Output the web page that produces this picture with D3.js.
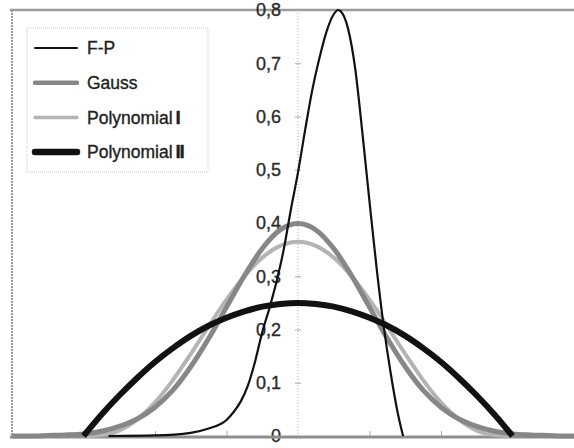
<!DOCTYPE html>
<html>
<head>
<meta charset="utf-8">
<script src="https://cdn.jsdelivr.net/npm/d3@7"></script>
<style>
  body { margin: 0; background: #fff; }
  svg { display: block; font-family: "Liberation Sans", Arial, sans-serif; }
</style>
</head>
<body>
<div id="chart"></div>
<script>
'use strict';

// kernel curves
var kernelX = [-3, -2.75, -2.5, -2.25, -2, -1.75, -1.5, -1.25, -1, -0.75, -0.5, -0.25, 0,
  0.25, 0.5, 0.75, 1, 1.25, 1.5, 1.75, 2, 2.25, 2.5, 2.75, 3];

var gaussX = [-4, -3.75, -3.5, -3.25, -3, -2.75, -2.5, -2.25, -2, -1.75, -1.5, -1.25, -1, -0.75, -0.5, -0.25, 0,
  0.25, 0.5, 0.75, 1, 1.25, 1.5, 1.75, 2, 2.25, 2.5, 2.75, 3, 3.25, 3.5, 3.75, 4];
var gaussY = [0, 0, 0.001, 0.002, 0.004, 0.009, 0.018, 0.032, 0.054, 0.086, 0.130, 0.183, 0.242, 0.301, 0.352, 0.387, 0.399,
  0.387, 0.352, 0.301, 0.242, 0.183, 0.130, 0.086, 0.054, 0.032, 0.018, 0.009, 0.004, 0.002, 0.001, 0, 0];

var poly1Y = [0, 0.002, 0.010, 0.031, 0.063, 0.105, 0.154, 0.206, 0.256, 0.300, 0.335, 0.357, 0.365,
  0.357, 0.335, 0.300, 0.256, 0.206, 0.154, 0.105, 0.063, 0.031, 0.010, 0.002, 0];

var poly2Y = [0, 0.040, 0.076, 0.109, 0.139, 0.165, 0.188, 0.207, 0.222, 0.234, 0.243, 0.248, 0.250,
  0.248, 0.243, 0.234, 0.222, 0.207, 0.188, 0.165, 0.139, 0.109, 0.076, 0.040, 0];

var fpX = [-2.65, -2.0, -1.5, -1.25, -1.0, -0.9, -0.8, -0.7, -0.6, -0.5, -0.4, -0.3, -0.2, -0.1, 0,
  0.1, 0.2, 0.3, 0.4, 0.5, 0.56, 0.6, 0.7, 0.8, 0.9, 1.0, 1.1, 1.2, 1.3, 1.4, 1.47];
var fpY = [0, 0.001, 0.006, 0.014, 0.03, 0.045, 0.065, 0.095, 0.14, 0.195, 0.24, 0.29, 0.35, 0.425, 0.495,
  0.575, 0.65, 0.71, 0.76, 0.792, 0.8, 0.797, 0.765, 0.69, 0.57, 0.44, 0.315, 0.205, 0.115, 0.04, 0];

var yTicks = [0, 0.1, 0.2, 0.3, 0.4, 0.5, 0.6, 0.7, 0.8];
var xTicks = [-3, -2, -1, 1, 2, 3];

var legendNames = ['F-P', 'Gauss', 'Polynomial', 'Polynomial'];
var legendNumerals = ['', '', 'I', 'II'];

var width = 574, height = 448;

var svg = d3.select('#chart').append('svg')
  .attr('width', width)
  .attr('height', height);

var x = d3.scaleLinear().domain([-4, 4]).range([12, 584]);
var y = d3.scaleLinear().domain([0, 0.8]).range([436, 10]);

var series = [
  { name: 'Polynomial I', xs: kernelX, ys: poly1Y, color: '#b4b4b4', w: 4 },
  { name: 'Gauss', xs: gaussX, ys: gaussY, color: '#878787', w: 5 },
  { name: 'Polynomial II', xs: kernelX, ys: poly2Y, color: '#111', w: 6 },
  { name: 'F-P', xs: fpX, ys: fpY, color: '#111', w: 2.2 }
];

// frame: top rule and dotted left edge
svg.append('line')
  .attr('x1', 10).attr('x2', width).attr('y1', 10).attr('y2', 10)
  .attr('stroke', '#9c9c9c').attr('stroke-width', 2.5);
svg.append('line')
  .attr('x1', 12).attr('x2', 12).attr('y1', 10).attr('y2', 437)
  .attr('stroke', '#999').attr('stroke-width', 2).attr('stroke-dasharray', '2,1');

// y axis (dotted, centred ticks)
svg.append('line')
  .attr('x1', x(0)).attr('x2', x(0)).attr('y1', 10).attr('y2', 437)
  .attr('stroke', '#aaa').attr('stroke-width', 1).attr('stroke-dasharray', '1,2');

var fmt = d3.formatLocale({ decimal: ',', thousands: '.', grouping: [3], currency: ['', ''] }).format('.1f');

var yAxis = svg.append('g')
  .attr('transform', 'translate(' + (x(0) + 3) + ',0)')
  .call(d3.axisLeft(y).tickValues(yTicks).tickSize(6).tickPadding(14)
    .tickFormat(function(d) { return d === 0 ? '0' : fmt(d); }));
yAxis.select('.domain').remove();
yAxis.selectAll('.tick line').attr('stroke', '#aaa');
yAxis.selectAll('.tick text')
  .attr('font-size', 18)
  .attr('font-family', '"Liberation Sans", Arial, sans-serif')
  .attr('fill', '#2b2b2b')
  .attr('stroke', '#2b2b2b')
  .attr('stroke-width', 0.35);

// x axis: thick grey base with small upward ticks
var xAxis = svg.append('g')
  .attr('transform', 'translate(0,437)')
  .call(d3.axisBottom(x).tickValues(xTicks).tickSize(-6).tickFormat(''));
xAxis.select('.domain').remove();
xAxis.selectAll('.tick line').attr('stroke', '#aaa');
svg.append('line')
  .attr('x1', 10).attr('x2', width).attr('y1', 437).attr('y2', 437)
  .attr('stroke', '#8e8e8e').attr('stroke-width', 3);

var line = d3.line()
  .x(function(d) { return x(d[0]); })
  .y(function(d) { return y(d[1]); })
  .curve(d3.curveMonotoneX);

svg.selectAll('path.curve')
  .data(series)
  .enter()
  .append('path')
  .attr('class', 'curve')
  .attr('fill', 'none')
  .attr('stroke', function(d) { return d.color; })
  .attr('stroke-width', function(d) { return d.w; })
  .attr('stroke-linejoin', 'round')
  .attr('d', function(d) { return line(d3.zip(d.xs, d.ys)); });

// legend
var legendStyle = [
  { color: '#111', w: 2 },
  { color: '#878787', w: 4.5 },
  { color: '#b4b4b4', w: 3.5 },
  { color: '#111', w: 6.5 }
];

var legend = svg.append('g');
legend.append('rect')
  .attr('x', 27).attr('y', 28).attr('width', 181).attr('height', 144)
  .attr('fill', '#fff')
  .attr('stroke', '#c8c8c8').attr('stroke-width', 1).attr('stroke-dasharray', '1,1');

var rows = legend.selectAll('g.row')
  .data(legendNames)
  .enter()
  .append('g')
  .attr('class', 'row')
  .attr('transform', function(d, i) { return 'translate(0,' + (48 + i * 34.7) + ')'; });

rows.append('line')
  .attr('x1', 35).attr('x2', 77)
  .attr('stroke', function(d, i) { return legendStyle[i].color; })
  .attr('stroke-width', function(d, i) { return legendStyle[i].w; })
  .attr('stroke-linecap', 'round');

var labels = rows.append('text')
  .attr('x', 87)
  .attr('dy', '0.35em')
  .attr('font-size', 17.5)
  .attr('fill', '#222')
  .attr('stroke', '#222')
  .attr('stroke-width', 0.35);
labels.append('tspan').text(function(d) { return d; });
labels.append('tspan')
  .attr('dx', 3)
  .attr('font-weight', 'bold')
  .attr('letter-spacing', -1.5)
  .attr('font-size', 19)
  .text(function(d, i) { return legendNumerals[i]; });
</script>
</body>
</html>
